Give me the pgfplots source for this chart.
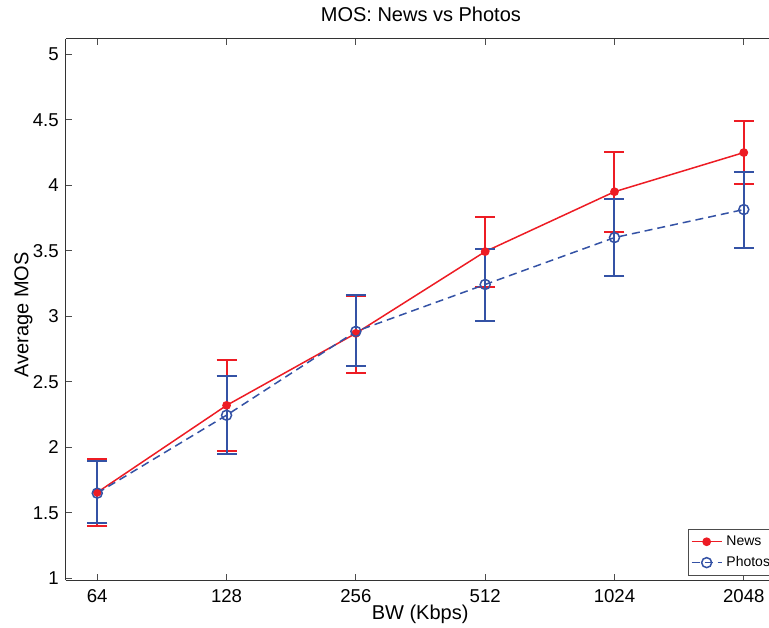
\documentclass[border=0pt]{standalone}
\usepackage{pgfplots}
\pgfplotsset{compat=1.18}
\usepackage{fontspec}
\setmainfont{Liberation Sans}
\definecolor{newsred}{RGB}{237,28,36}
\definecolor{photoblue}{RGB}{52,82,165}

\begin{document}
\begin{tikzpicture}
\begin{axis}[
  name=ax,
  scale only axis, width=351.65pt, height=270.5pt,
  xmin=0.756, xmax=6.195, ymin=0.987, ymax=5.117,
  axis x line*=box, axis y line*=left,
  axis line style={black!80, line width=0.5pt},
  tick align=inside, major tick length=3pt,
  tick style={black!70, line width=0.5pt},
  xtick={1,2,3,4,5,6}, xticklabels={64,128,256,512,1024,2048},
  ytick={1,1.5,2,2.5,3,3.5,4,4.5,5},
  yticklabels={1,1.5,2,2.5,3,3.5,4,4.5,5},
  tick label style={font=\fontsize{9.3}{11}\selectfont},
  xticklabel style={yshift=-1pt},
  xlabel={BW (Kbps)}, ylabel={Average MOS},
  label style={font=\fontsize{8.2}{10}\selectfont},
  every axis x label/.style={at={(axis description cs:0.504,-0.063)}, anchor=center},
  every axis y label/.style={at={(axis description cs:-0.06,0.49)}, rotate=90, anchor=center},
  title={MOS: News vs Photos},
  every axis title shift=0pt,
  title style={font=\fontsize{10}{12}\selectfont, at={(axis description cs:0.505,1.046)}, anchor=center},
  legend style={at={(0.885,0.0074)}, anchor=south west, font=\fontsize{7}{8.5}\selectfont,
    draw=black!70, inner sep=1.2pt, row sep=0pt, cells={anchor=west}},
  legend image code/.code={\draw[mark repeat=2,mark phase=2,#1] plot coordinates {(0pt,0pt) (7.5pt,0pt) (15pt,0pt)};},
]
\addplot[newsred, line width=0.75pt, mark=*, mark size=1.8pt,
  error bars/.cd, y dir=both, y explicit,
  error bar style={solid, line width=1pt, newsred},
  error mark options={rotate=90, mark size=5pt, line width=1pt, newsred}]
  coordinates {
  (1,1.656) += (0,0.258) -= (0,0.255)
  (2,2.320) += (0,0.347) -= (0,0.347)
  (3,2.870) += (0,0.285) -= (0,0.305)
  (4,3.494) += (0,0.267) -= (0,0.267)
  (5,3.951) += (0,0.300) -= (0,0.305)
  (6,4.250) += (0,0.242) -= (0,0.238)
  };
\addlegendentry{News}
\addplot[photoblue, line width=0.75pt, dash pattern=on 4pt off 2.5pt, mark=o, mark size=2.5pt, mark options={solid},
  error bars/.cd, y dir=both, y explicit,
  error bar style={solid, line width=1pt, photoblue},
  error mark options={rotate=90, mark size=5pt, line width=1pt, photoblue}]
  coordinates {
  (1,1.650) += (0,0.245) -= (0,0.230)
  (2,2.245) += (0,0.300) -= (0,0.297)
  (3,2.885) += (0,0.274) -= (0,0.267)
  (4,3.243) += (0,0.274) -= (0,0.282)
  (5,3.601) += (0,0.297) -= (0,0.290)
  (6,3.815) += (0,0.289) -= (0,0.290)
  };
\addlegendentry{Photos}
\end{axis}
\pgfresetboundingbox
\path[use as bounding box] ([xshift=-32.85pt, yshift=-23.5pt]ax.south west) rectangle ([yshift=19.5pt]ax.north east);
\end{tikzpicture}
\end{document}
